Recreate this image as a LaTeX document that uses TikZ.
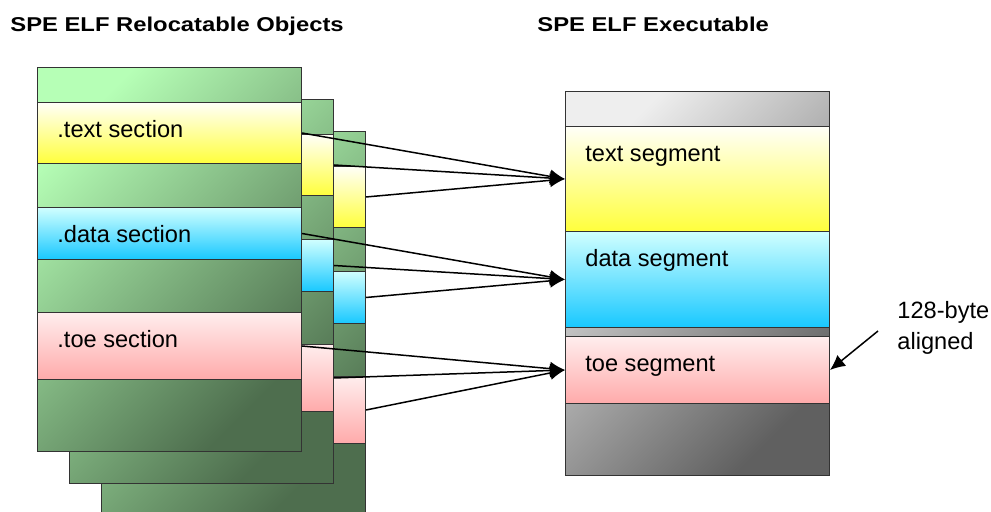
\documentclass[tikz,border=0pt]{standalone}
\usepackage{fontspec}
\setmainfont{Liberation Sans}
\newfontfamily\widefont{Liberation Sans}[FakeStretch=1.19]
\usetikzlibrary{arrows.meta}
\definecolor{grnlight}{RGB}{182,255,182}
\definecolor{grndark}{RGB}{78,110,78}
\definecolor{ylwtop}{RGB}{255,255,248}
\definecolor{ylwbot}{RGB}{255,255,60}
\definecolor{cyntop}{RGB}{208,255,255}
\definecolor{cynbot}{RGB}{24,200,255}
\definecolor{pnktop}{RGB}{255,238,238}
\definecolor{pnkbot}{RGB}{255,170,170}
\definecolor{gryA}{RGB}{238,238,238}
\definecolor{gryB}{RGB}{96,96,96}
\begin{document}
\begin{tikzpicture}[x=0.5pt, y=-0.5pt, >={Latex[length=7.5pt,width=7pt]},
  font=\fontsize{11.8}{15.5}\selectfont]
% --- Layout & Styles --------------------------------------
\tikzstyle{box}=[draw=black!80, line width=0.5pt, anchor=north west, inner sep=0pt]
\tikzstyle{object}=[box, top color=grnlight, bottom color=grndark, shading angle=45, minimum width=132pt, minimum height=192pt]
\tikzstyle{exe}=[box, top color=gryA, bottom color=gryB, shading angle=45, minimum width=132pt, minimum height=192pt]
\tikzstyle{section}=[box, minimum width=132pt]
\tikzstyle{yellow part}=[top color=ylwtop, bottom color=ylwbot]
\tikzstyle{cyan part}=[top color=cyntop, bottom color=cynbot]
\tikzstyle{pink part}=[top color=pnktop, bottom color=pnkbot]
\tikzstyle{seglabel}=[anchor=base west, inner sep=0pt]
\tikzstyle{title}=[seglabel, font=\widefont\bfseries]
\tikzstyle{link}=[->, line width=0.75pt]
\useasboundingbox (0,0) rectangle (991,512);
% --- Titles -----------------------------------------------
\node[title] (ttlobj) at (10,32) {SPE ELF Relocatable Objects};
\node[title] (ttlexe) at (537,32) {SPE ELF Executable};

% --- Relocatable objects (back to front) ------------------
\foreach \i in {3,2,1}{
  \pgfmathsetmacro{\d}{32*(\i-1)}
  \node[object] (obj\i) at (37+\d,67+\d) {};
  \node[section, yellow part, minimum height=30.5pt] (txt\i) at (37+\d,102+\d) {};
  \node[section, cyan part, minimum height=26pt] (dat\i) at (37+\d,207+\d) {};
  \node[section, pink part, minimum height=33.5pt] (toe\i) at (37+\d,312+\d) {};
}
\node[seglabel] (lbltxt) at ([xshift=10pt,yshift=-18pt]txt1.north west) {.text section};
\node[seglabel] (lbldat) at ([xshift=10pt,yshift=-18pt]dat1.north west) {.data section};
\node[seglabel] (lbltoe) at ([xshift=10pt,yshift=-18pt]toe1.north west) {.toe section};

% --- Executable -------------------------------------------
\node[exe] (exe) at (565,91) {};
\node[section, yellow part, minimum height=52.5pt] (segtext) at (565,126) {};
\node[section, cyan part, minimum height=48pt] (segdata) at (565,231) {};
\node[section, pink part, minimum height=33.5pt] (segtoe) at (565,336) {};
\node[seglabel] (lbltext) at ([xshift=10pt,yshift=-18pt]segtext.north west) {text segment};
\node[seglabel] (lbldata) at ([xshift=10pt,yshift=-18pt]segdata.north west) {data segment};
\node[seglabel] (lbltoes) at ([xshift=10pt,yshift=-18pt]segtoe.north west) {toe segment};
\node[seglabel, anchor=west, align=left] (note) at (897,328) {128-byte\\aligned};
\coordinate (notetail) at (878,331);

% --- Edges ------------------------------------------------
\foreach \i in {1,2,3}{
  \draw[link] (txt\i.east) -- (segtext.west);
  \draw[link] (dat\i.east) -- (segdata.west);
  \draw[link] (toe\i.east) -- (segtoe.west);
}
\draw[link] (notetail) -- (segtoe.east);

\end{tikzpicture}
\end{document}
